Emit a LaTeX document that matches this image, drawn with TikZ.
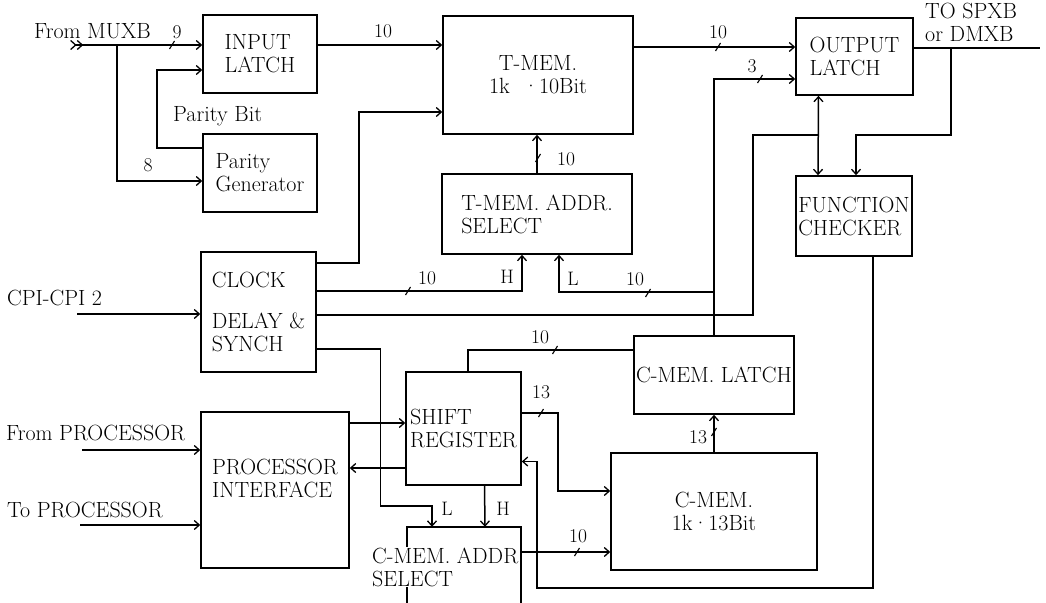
\documentclass[tikz,border=0pt]{standalone}
\usetikzlibrary{arrows.meta,calc}
\tikzset{
  blk/.style={draw,line width=1.6pt,inner sep=2pt,align=left,font=\fontsize{22}{23}\selectfont},
  txt/.style={inner sep=1pt,align=left,font=\fontsize{22}{23}\selectfont},
  lbl/.style={inner sep=1pt,font=\fontsize{19.5}{21}\selectfont},
  ln/.style={line width=1.5pt},
  sig/.style={ln,->},
  tk/.pic={\draw[line width=1.1pt](-2.5,4)--(2.5,-4);}
}
\begin{document}
\begin{tikzpicture}[x=1pt,y=-1pt,>={Straight Barb[length=5pt,width=9pt,line width=1.3pt]}]
\path[use as bounding box](0,0)rectangle(1046,602);
\clip(0,0)rectangle(1046,602);
% blocks
\node[blk,minimum width=114pt,minimum height=78pt](inlatch) at (260,54){INPUT\\LATCH};
\node[blk,minimum width=114pt,minimum height=78pt](pargen) at (260,173){Parity\\Generator};
\node[blk,align=center,minimum width=190pt,minimum height=118pt](tmem) at (538,75){T-MEM.\\1k \ ·10Bit};
\node[blk,minimum width=190pt,minimum height=80pt](tsel) at (537,214){T-MEM. ADDR.\\SELECT};
\node[blk,minimum width=117pt,minimum height=77pt](outlatch) at (854.5,56.5){OUTPUT\\LATCH};
\node[blk,minimum width=116pt,minimum height=80pt](fcheck) at (854,216){FUNCTION\\CHECKER};
\node[blk,minimum width=115pt,minimum height=120pt](clock) at (258.5,312){CLOCK\\[18pt]DELAY \&\\SYNCH};
\node[blk,minimum width=148pt,minimum height=156pt](procif) at (275,490){PROCESSOR\\INTERFACE\\\mbox{}};
\node[blk,minimum width=115pt,minimum height=113pt](shreg) at (463.5,428.5){SHIFT\\REGISTER};
\node[blk,minimum width=160pt,minimum height=78pt](clatch) at (714,375){C-MEM. LATCH};
\node[blk,align=center,minimum width=206pt,minimum height=117pt](cmem) at (714,511.5){C-MEM.\\1k·13Bit};
\node[minimum width=114pt,minimum height=120pt](csel) at (464,587){};
\draw[ln](csel.south west)--(csel.north west)--(csel.north east)--(csel.south east);
\node[txt,fill=white,anchor=west](cselt) at (371,567){C-MEM. ADDR\\SELECT};
% inputs and outputs
\coordinate (mux) at (70,45);
\coordinate (b1) at (117,45);
\coordinate (spx) at (1040,48);
\coordinate (b2) at (951,48);
\coordinate (cpi) at (77,314);
\coordinate (fp) at (82,450);
\coordinate (tp) at (80,525);
\coordinate (fb) at (537,588);
\draw[ln,>>->](mux)--(inlatch.west|-mux);
\draw[sig](b1)|-($(pargen.west)+(0,8)$);
\draw[sig]($(pargen.west)+(0,-25)$)-|($(inlatch.west)+(-45,16)$)--($(inlatch.west)+(0,16)$);
\draw[sig]($(inlatch.east)+(0,-9)$)--($(tmem.west)+(0,-30)$);
\draw[sig]($(tmem.east)+(0,-28)$)coordinate(t1)--(outlatch.west|-t1);
\draw[ln](outlatch.east|-spx)--(spx);
\draw[sig](b2)|-($(fcheck.north)+(2,-40)$)--($(fcheck.north)+(2,0)$);
\draw[ln,<->]($(outlatch.south)+(-36,0)$)--($(fcheck.north)+(-36,0)$);
\coordinate (j1) at ($(fcheck.north)+(-36,-40)$);
\draw[ln]($(clock.east)+(0,3)$)-|($(j1)+(-65,0)$)--(j1);
\draw[sig]($(clock.east)+(0,-49)$)-|($(tmem.west)+(-83,37)$)--($(tmem.west)+(0,37)$);
\draw[sig]($(clock.east)+(0,-21)$)-|($(tsel.south)+(-15,0)$);
\draw[sig](clatch.north)|-($(outlatch.west)+(0,22.5)$);
\coordinate (j2) at ($(clatch.north)+(0,-43)$);
\draw[sig](j2)-|($(tsel.south)+(22,0)$);
\draw[sig](tsel.north)--(tsel.north|-tmem.south);
\draw[sig]($(clock.east)+(0,37)$)-|($(shreg.south)+(-83,20)$)-|($(csel.north)+(-32,0)$);
\draw[sig]($(shreg.south)+(21,0)$)--($(csel.north)+(21,0)$);
\draw[sig]($(procif.east)+(0,-67)$)coordinate(p1)--(shreg.west|-p1);
\draw[sig]($(shreg.west)+(0,39.5)$)coordinate(p2)--(procif.east|-p2);
\draw[ln]($(shreg.north)+(4.5,0)$)|-($(clatch.west)+(0,-25)$);
\draw[sig]($(shreg.east)+(0,-15.5)$)-|($(cmem.west)+(-52,-20.5)$)--($(cmem.west)+(0,-20.5)$);
\draw[sig]($(csel.east)+(0,-35)$)coordinate(p3)--(cmem.west|-p3);
\draw[sig](cmem.north)--(clatch.south);
\draw[sig]($(fcheck.south)+(19,0)$)|-(fb)|-($(shreg.east)+(0,33)$);
\draw[sig](cpi)--(clock.west|-cpi);
\draw[sig](fp)--(procif.west|-fp);
\draw[sig](tp)--(procif.west|-tp);
% bus ticks
\foreach \p in {(172,45),(718,47),(760,79),(408,291),(648,293),(538,158),(555,350),(541,413),(577,552),(714,432)}
  \pic at \p {tk};
% labels
\node[txt,anchor=base west](muxl) at (33,39){From MUXB};
\node[lbl](n9) at (177,32){9};
\node[lbl](n8) at (148,165){8};
\node[txt,anchor=west](pbit) at (172,116){Parity Bit};
\node[lbl](n10a) at (383,31){10};
\node[lbl](n10b) at (718,32){10};
\node[lbl](n3) at (752,66){3};
\node[txt,anchor=north west](spxl) at (924,2){TO SPXB\\or DMXB};
\node[txt,anchor=west](cpil) at (6,298){CPI-CPI 2};
\node[txt,anchor=west](fpl) at (5,433){From PROCESSOR};
\node[txt,anchor=west](tpl) at (6,510){To PROCESSOR};
\node[lbl](n10c) at (427,278){10};
\node[lbl](hl1) at (507,277){H};
\node[lbl](ll1) at (573,279){L};
\node[lbl](n10d) at (635,279){10};
\node[lbl](n10e) at (566,159){10};
\node[lbl](n10f) at (540,337){10};
\node[lbl](n13a) at (541,392){13};
\node[lbl](ll2) at (447,509){L};
\node[lbl](hl2) at (503,509){H};
\node[lbl](n10g) at (578,536){10};
\node[lbl](n13b) at (698,437){13};
\end{tikzpicture}
\end{document}
